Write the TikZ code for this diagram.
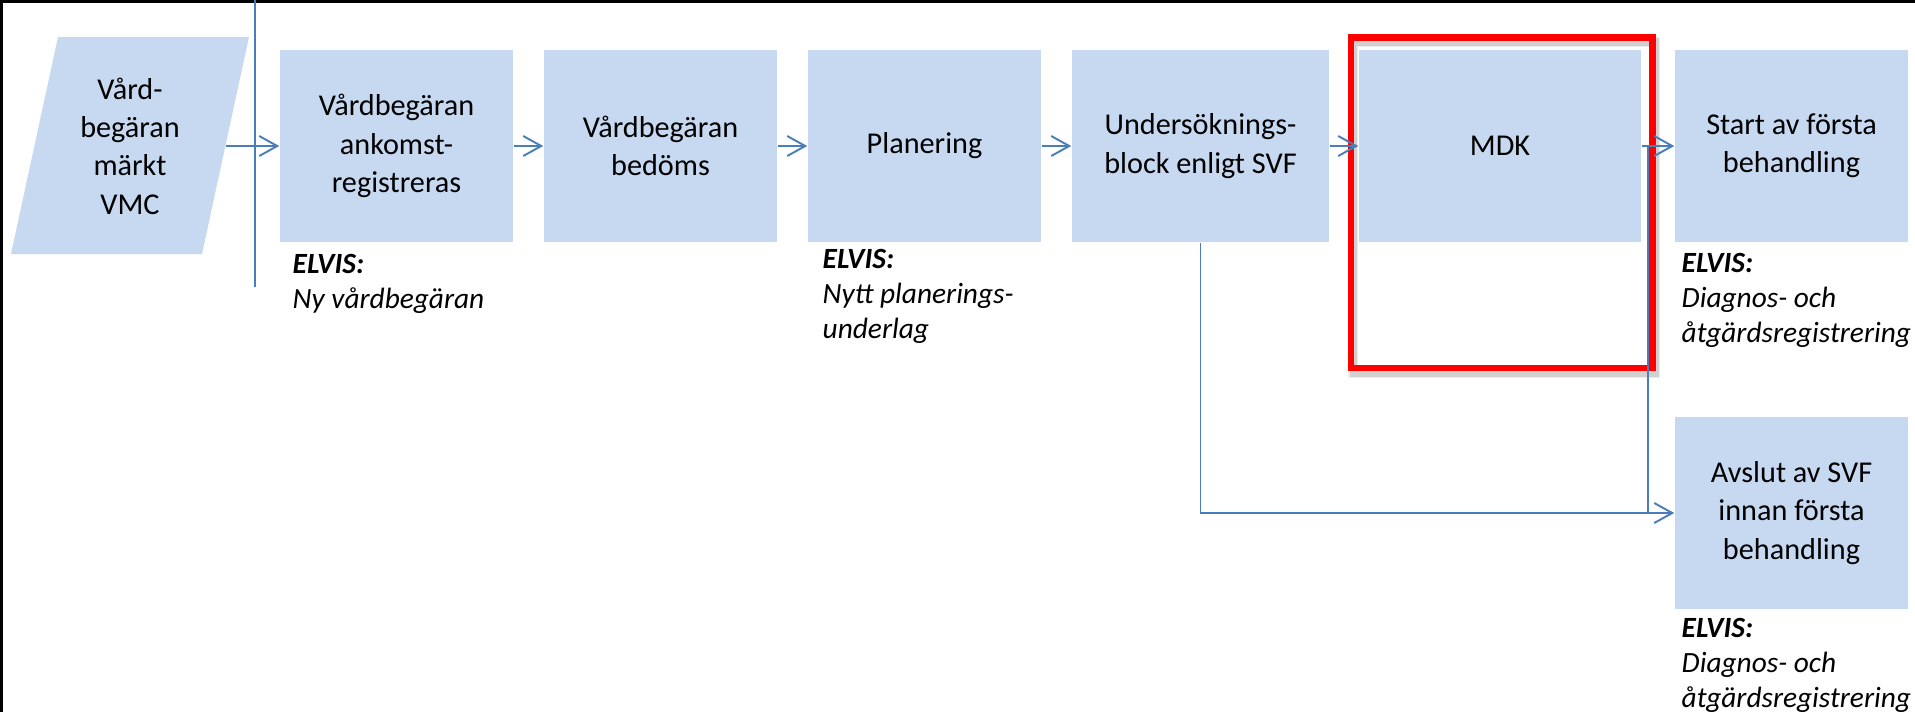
\documentclass[tikz,border=0pt]{standalone}
\usepackage{fontspec}
\setmainfont{Carlito}
\usetikzlibrary{arrows.meta}

\definecolor{ljusbla}{RGB}{198,217,240}
\definecolor{linjebla}{RGB}{74,126,187}
\tikzset{
  steg/.style={fill=ljusbla, inner sep=0pt, minimum height=1.92cm, minimum width=2.33cm,
    align=center, font=\fontsize{8.6pt}{10.9pt}\selectfont},
  pil/.style={draw=linjebla, line width=0.55pt,
    -{Straight Barb[length=1.8mm, width=2mm, line width=0.55pt]}},
  linje/.style={draw=linjebla, line width=0.5pt},
  notering/.style={anchor=north west, inner sep=0pt, align=left,
    font=\fontsize{8.35pt}{9.96pt}\selectfont\itshape},
}

\begin{document}
\begin{tikzpicture}[x=0.01cm, y=-0.01cm]
  \useasboundingbox (0,0) rectangle (1915,712);
  % ram
  \draw [line width=0.027cm] (0,1.35) -- (1915,1.35);
  \draw [line width=0.027cm] (1.35,0) -- (1.35,712);
  \draw [linje] (255,0) -- (255,287);

  % inkommande vardbegaran
  \fill [ljusbla] (58,37) -- (249,37) -- (202,254) -- (11,254) -- cycle;
  \node [align=center, font=\fontsize{8.6pt}{10.9pt}\selectfont] (vmc) at (130,146) {Vård-\\begäran\\märkt\\VMC};
  \coordinate (vmcut) at (226,146);

  % flodet
  \node [steg] (ankomst) at (396.5,146) {Vårdbegäran\\ankomst-\\registreras};
  \node [steg] (bedoms) at (660.5,146) {Vårdbegäran\\bedöms};
  \node [steg] (planering) at (924.5,146) {Planering};
  \node [steg, minimum width=2.57cm] (undersok) at (1200.5,146) {Undersöknings-\\block enligt SVF};
  \node [steg, minimum width=2.82cm] (mdk) at (1500,146) {MDK};
  \node [steg] (start) at (1791.5,146) {Start av första\\behandling};
  \node [steg] (avslut) at (1791.5,513) {Avslut av SVF\\innan första\\behandling};

  % ELVIS
  \node [notering] (ankomstnot) at (292,254) {\textbf{ELVIS:}\\Ny vårdbegäran};
  \node [notering] (planeringnot) at (822,249) {\textbf{ELVIS:}\\Nytt planerings-\\underlag};
  \node [notering] (startnot) at (1681,253) {\textbf{ELVIS:}\\Diagnos- och\\åtgärdsregistrering};
  \node [notering] (avslutnot) at (1681,618) {\textbf{ELVIS:}\\Diagnos- och\\åtgärdsregistrering};

  % markering MDK
  \draw [gray, opacity=0.15, line width=0.1cm] (1353,42) rectangle (1655,373);
  \draw [gray, opacity=0.25, line width=0.07cm] (1353,42) rectangle (1655,373);
  \draw [red, line width=0.065cm] (1351,37.5) rectangle (1652.5,368);

  % pilar
  \draw [pil] (vmcut) -- (ankomst.west);
  \draw [pil] (ankomst) -- (bedoms);
  \draw [pil] (bedoms) -- (planering);
  \draw [pil] (planering) -- (undersok);
  \draw [pil] (undersok) -- (mdk);
  \draw [pil] (mdk) -- (start);
  \draw [pil] (undersok.south) |- (avslut.west);
  \coordinate (mdkned) at (1648,146);
  \draw [linje, line width=0.35pt] (mdkned) -- (mdkned |- avslut.west);
\end{tikzpicture}
\end{document}
